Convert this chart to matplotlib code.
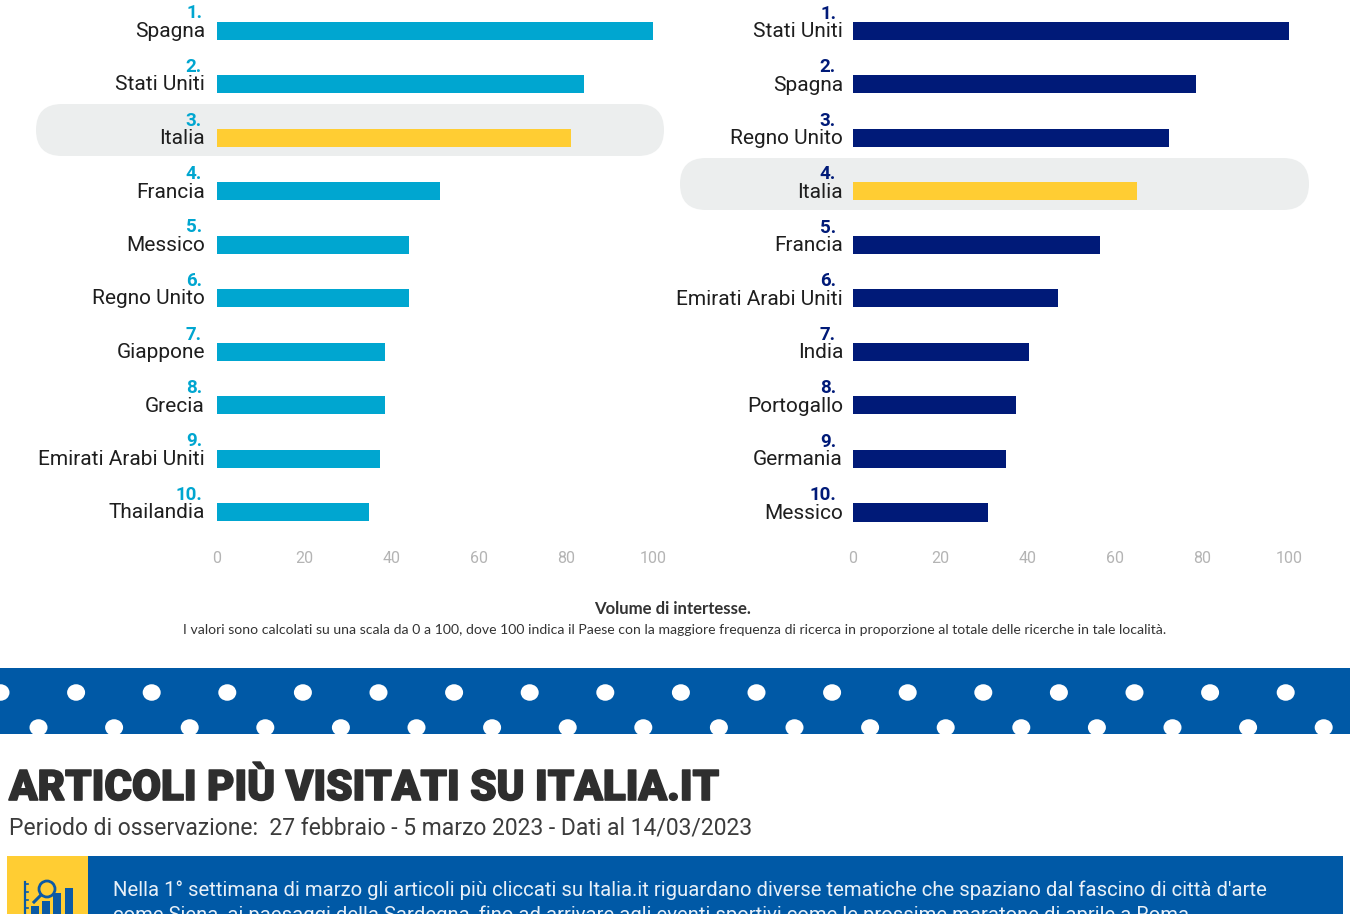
import matplotlib
matplotlib.use("Agg")
from matplotlib import pyplot as plt
from matplotlib import patheffects
from matplotlib.patches import Ellipse, FancyBboxPatch, Rectangle, Circle

W, H = 1350, 914

# interesse di ricerca, classifica a sinistra
left_countries = ["Spagna", "Stati Uniti", "Italia", "Francia", "Messico",
                  "Regno Unito", "Giappone", "Grecia", "Emirati Arabi Uniti", "Thailandia"]
left_values = [100, 84.2, 81.3, 51.2, 44, 44, 38.5, 38.5, 37.3, 34.8]

# classifica a destra
right_countries = ["Stati Uniti", "Spagna", "Regno Unito", "Italia", "Francia",
                   "Emirati Arabi Uniti", "India", "Portogallo", "Germania", "Messico"]
right_values = [100, 78.7, 72.5, 65.1, 56.6, 47, 40.3, 37.3, 35.2, 31]

x_ticks = [0, 20, 40, 60, 80, 100]

CYAN = "#00a6d0"
NAVY = "#001a78"
YELLOW = "#ffcd33"
BLUE = "#0059a6"
DARK = "#2e2e2e"
FONT = "Roboto"

fig = plt.figure(figsize=(W / 100, H / 100), dpi=100, facecolor="white")

# sfondo in coordinate pixel
bg = fig.add_axes([0, 0, 1, 1], zorder=0)
bg.set_xlim(0, W)
bg.set_ylim(H, 0)
bg.axis("off")

for x0, y0, w in [(36, 104, 576), (680, 158, 577)]:
    bg.add_patch(FancyBboxPatch((x0 + 26, y0 + 26), w, 0,
                                boxstyle="round,pad=26,rounding_size=26",
                                fc="#eceeee", ec="none"))

# fascia a pois
band = Rectangle((0, 668), W, 66, fc=BLUE, ec="none")
bg.add_patch(band)
for k in range(19):
    for cx, cy in [(0.5 + 75.6 * k, 692.5), (38.5 + 75.6 * k, 727.5)]:
        dot = Ellipse((cx, cy), 18, 16.5, fc="white", ec="none")
        bg.add_patch(dot)
        dot.set_clip_path(band)

title = bg.text(9, 788.5, "ARTICOLI PIÙ VISITATI SU ITALIA.IT", fontsize=30.3, fontweight="black",
                family=FONT, color=DARK, va="center", ha="left")
title.set_path_effects([patheffects.withStroke(linewidth=1.2, foreground=DARK)])
bg.text(9, 828.5, "Periodo di osservazione:  27 febbraio - 5 marzo 2023 - Dati al 14/03/2023",
        fontsize=16.5, family=FONT, color="#3c3c3c", va="center", ha="left")
bg.text(672.5, 609.5, "Volume di intertesse.", fontsize=12.1, fontweight="bold", family="Lato",
        color="#333333", va="center", ha="center")
bg.text(674.5, 630, "I valori sono calcolati su una scala da 0 a 100, dove 100 indica il Paese "
        "con la maggiore frequenza di ricerca in proporzione al totale delle ricerche in tale località.",
        fontsize=10.1, family="Lato", color="#333333", va="center", ha="center")

# riquadro in basso, tagliato dal bordo
bg.add_patch(Rectangle((7, 856), 81, 58, fc=YELLOW, ec="none"))
bg.add_patch(Rectangle((88, 856), 1255, 58, fc=BLUE, ec="none"))
bg.text(113, 890, "Nella 1° settimana di marzo gli articoli più cliccati su Italia.it riguardano "
        "diverse tematiche che spaziano dal fascino di città d'arte",
        fontsize=14.6, family=FONT, color="#e8f0f8", va="center", ha="left")
bg.text(113, 915, "come Siena, ai paesaggi della Sardegna, fino ad arrivare agli eventi "
        "sportivi come le prossime maratone di aprile a Roma.",
        fontsize=14.6, family=FONT, color="#e8f0f8", va="center", ha="left")

# icona
ICON = "#0b5aa5"
bg.plot([24.5, 24.5], [882, 914], color=ICON, lw=1.6)
for ty in [884, 892, 900, 908]:
    bg.plot([24.5, 27.5], [ty, ty], color=ICON, lw=1.2)
for bx, by in [(31, 906), (42, 901), (53, 893), (65, 888)]:
    bg.add_patch(Rectangle((bx, by), 7.5, 914 - by, fc=ICON, ec="none"))
bg.add_patch(Circle((47, 889), 8, fc=YELLOW, ec=ICON, lw=2))
bg.plot([41, 34], [895, 902], color=ICON, lw=2.2)


def draw_panel(x0, x1, y_first, y_last, names, values, colour, name_gap, rank_gap):
    step = (y_last - y_first) / 9
    top = y_first - step / 2
    bottom = y_last + step / 2
    ax = fig.add_axes([x0 / W, 1 - bottom / H, (x1 - x0) / W, (bottom - top) / H], zorder=2)
    ax.patch.set_alpha(0)
    colours = [YELLOW if n == "Italia" else colour for n in names]
    ax.barh(range(10), values, height=18 / step, color=colours)
    ax.set_xlim(0, 100)
    ax.set_ylim(9.5, -0.5)
    for s in ax.spines.values():
        s.set_visible(False)
    ax.set_xticks(x_ticks)
    ax.tick_params(axis="x", length=0, pad=8.5, labelsize=11.5, labelcolor="#b4b4b4")
    for lab in ax.get_xticklabels():
        lab.set_family(FONT)
    ax.set_yticks([])
    for i, n in enumerate(names):
        ax.annotate(n, (0, i), xytext=(-name_gap, -1), textcoords="offset pixels", ha="right",
                    va="center", fontsize=15, family=FONT, color="#1e1e1e")
        ax.annotate(f"{i + 1}.", (0, i), xytext=(-rank_gap, 17), textcoords="offset pixels",
                    ha="right", va="center", fontsize=13.5, fontweight="bold", family=FONT,
                    color=colour)


draw_panel(217, 653, 30.5, 512, left_countries, left_values, CYAN, 12, 15)
draw_panel(853, 1289, 31, 512.5, right_countries, right_values, NAVY, 10, 17)

fig.savefig("out.png", dpi=100)
